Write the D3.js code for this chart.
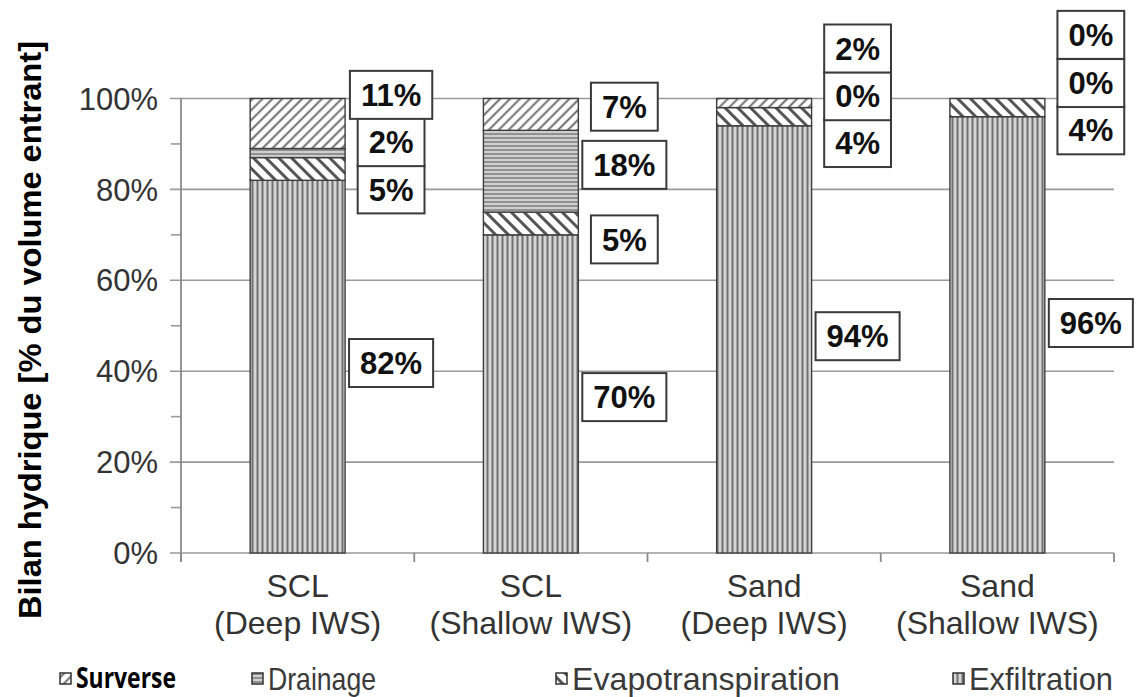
<!DOCTYPE html>
<html>
<head>
<meta charset="utf-8">
<script src="https://cdn.jsdelivr.net/npm/d3@7"></script>
<style>
  html, body { margin: 0; padding: 0; background: #fff; }
  svg { display: block; }
</style>
</head>
<body>
<svg id="chart" width="1139" height="697"></svg>
<script>
// ---------- data ----------
const categoryLine1 = ["SCL", "SCL", "Sand", "Sand"];
const categoryLine2 = ["(Deep IWS)", "(Shallow IWS)", "(Deep IWS)", "(Shallow IWS)"];
const seriesNames = ["Exfiltration", "Evapotranspiration", "Drainage", "Surverse"];
const exfiltration = [82, 70, 94, 96];
const evapotranspiration = [5, 5, 4, 4];
const drainage = [2, 18, 0, 0];
const surverse = [11, 7, 2, 0];
const yTickValues = [0, 20, 40, 60, 80, 100];
const yMinorTicks = [10, 30, 50, 70, 90];
const legendOrder = ["Surverse", "Drainage", "Evapotranspiration", "Exfiltration"];
// label anchor (value-axis units) where each data label box was placed
const labelAnchorExfiltration = [41.8, 34.3, 47.7, 50.6];
const labelAnchorEvapotranspiration = [80, 69, 90.2, 93];
const labelAnchorDrainage = [90.4, 85.4, 100.5, 103.4];
const labelAnchorSurverse = [100.8, 98.2, 111, 114];

const seriesValues = {
  "Exfiltration": exfiltration,
  "Evapotranspiration": evapotranspiration,
  "Drainage": drainage,
  "Surverse": surverse
};
const labelAnchors = {
  "Exfiltration": labelAnchorExfiltration,
  "Evapotranspiration": labelAnchorEvapotranspiration,
  "Drainage": labelAnchorDrainage,
  "Surverse": labelAnchorSurverse
};

// ---------- setup ----------
const svg = d3.select("#chart");
const plotLeft = 181, plotRight = 1114, plotTop = 98.5, plotBottom = 553;

const x = d3.scaleBand()
  .domain(d3.range(categoryLine1.length))
  .range([plotLeft, plotRight])
  .paddingInner(0.593)
  .paddingOuter(0.2965);
const y = d3.scaleLinear().domain([0, 100]).range([plotBottom, plotTop]);

// ---------- patterns ----------
const defs = svg.append("defs");
function linePattern(id, size, bg, stroke, sw, angle, horizontal) {
  const p = defs.append("pattern")
    .attr("id", id)
    .attr("patternUnits", "userSpaceOnUse")
    .attr("width", size).attr("height", size)
    .attr("patternTransform", `rotate(${angle})`);
  p.append("rect").attr("width", size).attr("height", size).attr("fill", bg);
  if (horizontal) {
    p.append("line").attr("x1", 0).attr("x2", size).attr("y1", size / 2).attr("y2", size / 2)
      .attr("stroke", stroke).attr("stroke-width", sw);
  } else {
    p.append("line").attr("x1", size / 2).attr("x2", size / 2).attr("y1", 0).attr("y2", size)
      .attr("stroke", stroke).attr("stroke-width", sw);
  }
}
linePattern("pat-Exfiltration", 5, "#d6d6d6", "#707070", 2, 0, false);
linePattern("pat-Evapotranspiration", 9, "#ffffff", "#555555", 3, -45, false);
linePattern("pat-Drainage", 4, "#d0d0d0", "#7c7c7c", 1.5, 0, true);
linePattern("pat-Surverse", 7, "#ffffff", "#5e5e5e", 1.8, 45, false);

// ---------- grid & axes ----------
const grid = svg.append("g");
grid.selectAll("line.grid").data(yTickValues).enter().append("line")
  .attr("x1", plotLeft - 11).attr("x2", plotRight)
  .attr("y1", d => y(d)).attr("y2", d => y(d))
  .attr("stroke", "#9a9a9a").attr("stroke-width", 1.6);
grid.selectAll("line.minor").data(yMinorTicks).enter().append("line")
  .attr("x1", plotLeft - 10).attr("x2", plotLeft)
  .attr("y1", d => y(d)).attr("y2", d => y(d))
  .attr("stroke", "#9a9a9a").attr("stroke-width", 1.6);
grid.append("line")
  .attr("x1", plotLeft).attr("x2", plotLeft)
  .attr("y1", y(100)).attr("y2", y(0) + 9)
  .attr("stroke", "#8a8a8a").attr("stroke-width", 1.8);
const boundaries = d3.range(categoryLine1.length + 1).map(i => plotLeft + i * x.step());
grid.selectAll("line.xt").data(boundaries).enter().append("line")
  .attr("x1", d => d).attr("x2", d => d)
  .attr("y1", y(0)).attr("y2", y(0) + 9)
  .attr("stroke", "#8a8a8a").attr("stroke-width", 1.8);

// y tick labels
svg.append("g").selectAll("text").data(yTickValues).enter().append("text")
  .attr("x", 158).attr("y", d => y(d))
  .attr("dy", "0.36em")
  .attr("text-anchor", "end")
  .attr("font-family", "Liberation Sans, Arial, sans-serif")
  .attr("font-size", 31)
  .attr("fill", "#333")
  .text(d => d + "%");

// x category labels
const xl = svg.append("g");
xl.selectAll("text.l1").data(categoryLine1).enter().append("text")
  .attr("x", (d, i) => x(i) + x.bandwidth() / 2).attr("y", 597)
  .attr("text-anchor", "middle")
  .attr("font-family", "Liberation Sans, Arial, sans-serif")
  .attr("font-size", 32).attr("fill", "#333")
  .text(d => d);
xl.selectAll("text.l2").data(categoryLine2).enter().append("text")
  .attr("x", (d, i) => x(i) + x.bandwidth() / 2).attr("y", 634)
  .attr("text-anchor", "middle")
  .attr("font-family", "Liberation Sans, Arial, sans-serif")
  .attr("font-size", 32).attr("fill", "#333")
  .text(d => d);

// y axis title
svg.append("text")
  .attr("transform", `translate(30, 330) rotate(-90)`)
  .attr("text-anchor", "middle")
  .attr("dominant-baseline", "central")
  .attr("font-family", "Liberation Sans, Arial, sans-serif")
  .attr("font-weight", "bold")
  .attr("font-size", 31)
  .attr("fill", "#000")
  .attr("textLength", 578)
  .attr("lengthAdjust", "spacingAndGlyphs")
  .text("Bilan hydrique [% du volume entrant]");

// ---------- stacked bars ----------
const rows = categoryLine1.map((c, i) => {
  const r = { idx: i };
  seriesNames.forEach(s => r[s] = seriesValues[s][i]);
  return r;
});
const stacked = d3.stack().keys(seriesNames)(rows);

const bars = svg.append("g");
stacked.forEach(layer => {
  bars.selectAll(null).data(layer).enter().append("rect")
    .attr("x", d => x(d.data.idx))
    .attr("width", x.bandwidth())
    .attr("y", d => y(d[1]))
    .attr("height", d => y(d[0]) - y(d[1]))
    .attr("fill", `url(#pat-${layer.key})`)
    .attr("stroke", "#3e3e3e")
    .attr("stroke-width", 1.4);
});

// ---------- data labels ----------
const labels = svg.append("g");
seriesNames.forEach(s => {
  seriesValues[s].forEach((v, i) => {
    const cx = x(i) + x.bandwidth() + 46;
    const cy = y(labelAnchors[s][i]);
    const g = labels.append("g");
    const rect = g.append("rect");
    const t = g.append("text")
      .attr("x", cx).attr("y", cy).attr("dy", "0.36em")
      .attr("text-anchor", "middle")
      .attr("font-family", "Liberation Sans, Arial, sans-serif")
      .attr("font-weight", "bold")
      .attr("font-size", 31)
      .attr("fill", "#111")
      .text(v + "%");
    const w = t.node().getComputedTextLength() + 22;
    const h = 48;
    rect.attr("x", cx - w / 2).attr("y", cy - h / 2)
      .attr("width", w).attr("height", h)
      .attr("fill", "#fff").attr("stroke", "#3a3a3a").attr("stroke-width", 2);
  });
});

// ---------- legend ----------
const legendX = { "Surverse": 60, "Drainage": 252, "Evapotranspiration": 556, "Exfiltration": 953 };
const legendTextLen = { "Surverse": 100, "Drainage": 108, "Evapotranspiration": 268, "Exfiltration": 144 };
const lg = svg.append("g");
legendOrder.forEach(s => {
  const lx = legendX[s];
  lg.append("rect")
    .attr("x", lx).attr("y", 673).attr("width", 11).attr("height", 11)
    .attr("fill", `url(#pat-${s})`).attr("stroke", "#333").attr("stroke-width", 1.5);
  const bold = s === "Surverse";
  lg.append("text")
    .attr("x", lx + 16).attr("y", bold ? 688 : 690)
    .attr("font-family", bold ? "Open Sans, Noto Sans, sans-serif" : "Liberation Sans Narrow, Liberation Sans, Arial, sans-serif")
    .attr("font-weight", bold ? 700 : 400)
    .attr("font-size", bold ? 28 : 32)
    .attr("fill", bold ? "#000" : "#3a3a3a")
    .attr("textLength", legendTextLen[s])
    .attr("lengthAdjust", "spacingAndGlyphs")
    .text(s);
});
</script>
</body>
</html>
